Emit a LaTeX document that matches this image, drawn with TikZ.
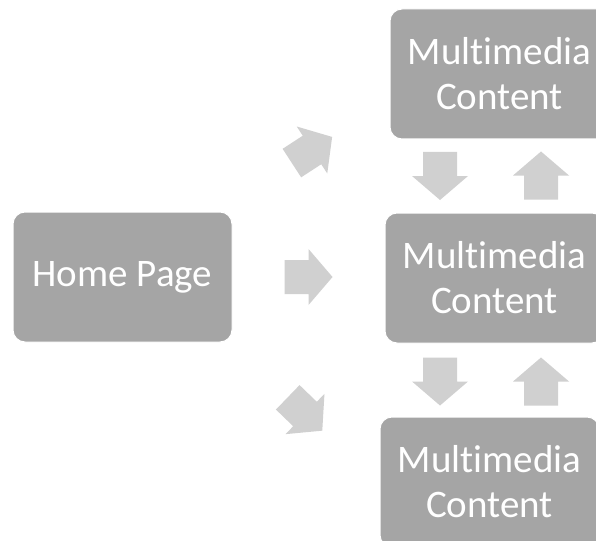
\documentclass[tikz,border=0pt]{standalone}
\usepackage{fontspec}
\setmainfont{Carlito}[Ligatures=NoCommon]
\definecolor{boxgray}{RGB}{165,165,165}
\definecolor{arrowgray}{RGB}{208,208,208}
\tikzset{
  pagebox/.style={draw=white, line width=1pt, fill=boxgray, rounded corners=12pt,
    minimum width=219pt, minimum height=130pt, inner sep=0pt, text=white,
    align=center, font=\fontsize{39}{45}\selectfont},
  blockarrow/.style={fill=arrowgray, draw=none}
}
\newcommand{\blockarrowat}[3]{%
  \fill[blockarrow, shift={(#1,#2)}, rotate=#3]
    (-24,-17) -- (0,-17) -- (0,-28) -- (24,0) -- (0,28) -- (0,17) -- (-24,17) -- cycle;}
\begin{document}
\begin{tikzpicture}[x=1pt,y=-1pt]
  \useasboundingbox (0,0) rectangle (596,540);
  \clip (0,0) rectangle (596,540);
  \fill[white] (0,0) rectangle (596,540);
  \node[pagebox] (home) at (122.5,277) {Home Page};
  \node[pagebox] (top) at (499.5,74) {Multimedia\\Content};
  \node[pagebox] (mid) at (494.5,278) {Multimedia\\Content};
  \node[pagebox] (bot) at (489.5,482) {Multimedia\\Content};
  % arrows from home page
  \blockarrowat{312}{150}{33}
  \blockarrowat{308.5}{277}{0}
  \blockarrowat{305}{414}{-44}
  % arrows between content boxes
  \blockarrowat{440}{176}{-90}
  \blockarrowat{541}{175.5}{90}
  \blockarrowat{440}{381.5}{-90}
  \blockarrowat{541}{381.5}{90}
\end{tikzpicture}
\end{document}
